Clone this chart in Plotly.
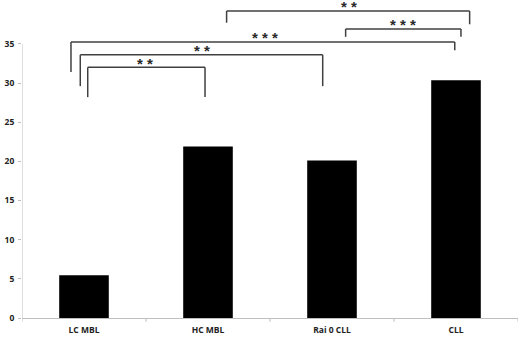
import plotly.graph_objects as go

categories = ["LC MBL", "HC MBL", "Rai 0 CLL", "CLL"]
values = [5.45, 21.9, 20.1, 30.35]

# significance brackets: (left x, right x, top y, left leg bottom, right leg bottom, label)
brackets = [
    (0.03, 0.976, 32.0, 28.2, 28.2, "* *"),
    (-0.03, 1.925, 33.6, 29.6, 29.6, "* *"),
    (-0.105, 2.99, 35.25, 31.4, 34.2, "* * *"),
    (2.11, 3.04, 36.9, 35.9, 35.9, "* * *"),
    (1.15, 3.11, 39.2, 37.7, 37.5, "* *"),
]
label_x = [0.49, 0.95, 1.46, 2.57, 2.14]

fig = go.Figure()
fig.add_trace(go.Bar(x=list(range(len(categories))), y=values, width=0.4,
                     marker=dict(color="black", line=dict(width=0)), hoverinfo="skip"))

shapes = []
annotations = []
lc = "#404040"
for (xl, xr, yt, yl, yr, lab), lx in zip(brackets, label_x):
    shapes.append(dict(type="line", xref="x", yref="y", x0=xl, x1=xr, y0=yt, y1=yt,
                       line=dict(color=lc, width=1.5)))
    shapes.append(dict(type="line", xref="x", yref="y", x0=xl, x1=xl, y0=yt, y1=yl,
                       line=dict(color=lc, width=1.5)))
    shapes.append(dict(type="line", xref="x", yref="y", x0=xr, x1=xr, y0=yt, y1=yr,
                       line=dict(color=lc, width=1.5)))
    annotations.append(dict(x=lx, y=yt, xref="x", yref="y", text="<b>%s</b>" % lab,
                            showarrow=False, yanchor="bottom", yshift=-6.5,
                            font=dict(family="Liberation Sans", size=15, color="#2a2a2a")))

# y axis line from 0 to 35
shapes.append(dict(type="line", xref="x", yref="y", x0=-0.5, x1=-0.5, y0=0, y1=35,
                   line=dict(color="#bfbfbf", width=1)))
# boundary ticks on x-axis
for b in [-0.5, 0.5, 1.5, 2.5, 3.5]:
    shapes.append(dict(type="line", xref="x", yref="paper", x0=b, x1=b, y0=0, y1=-0.012,
                       line=dict(color="#bfbfbf", width=1)))

fig.update_layout(
    width=520, height=337,
    margin=dict(l=22, r=2, t=0, b=19, autoexpand=False),
    plot_bgcolor="white", paper_bgcolor="white",
    showlegend=False,
    shapes=shapes, annotations=annotations,
    font=dict(family="Open Sans", size=8.5, color="#222222"),
    xaxis=dict(range=[-0.5, 3.5], tickvals=list(range(len(categories))),
               ticktext=["<b>%s</b>" % c for c in categories],
               showline=True, linecolor="#bfbfbf", linewidth=1, automargin=False,
               ticks="", showgrid=False, zeroline=False, ticklabelstandoff=4),
    yaxis=dict(range=[0, 40.6], tickvals=[0, 5, 10, 15, 20, 25, 30, 35],
               ticktext=["<b>%d</b>" % v for v in [0, 5, 10, 15, 20, 25, 30, 35]],
               showline=False, ticks="outside", ticklen=3, tickcolor="#bfbfbf",
               showgrid=False, zeroline=False, automargin=False, ticklabelstandoff=2),
)

fig.write_html("out.html", config={"displayModeBar": False},
               post_script="document.body.style.margin='0';document.body.style.overflow='hidden';")
